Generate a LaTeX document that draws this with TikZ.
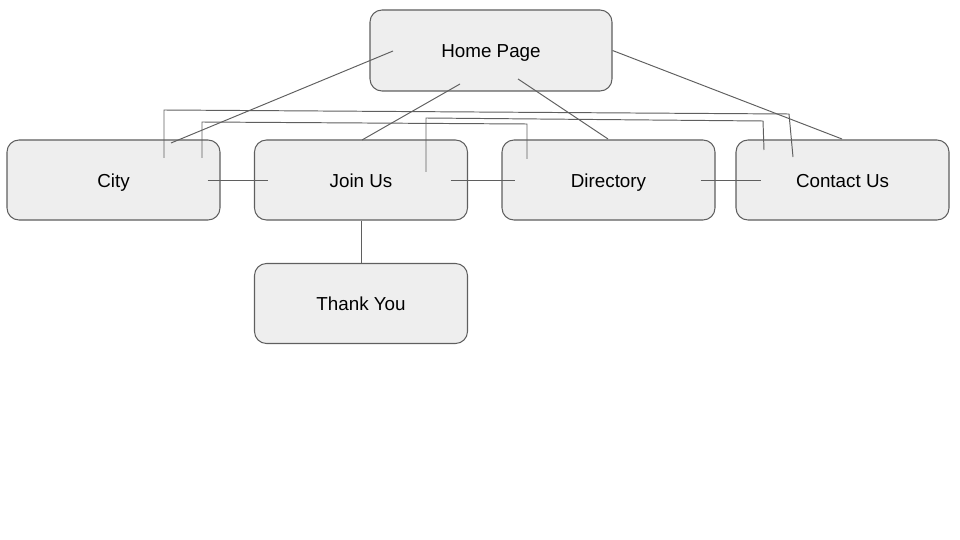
\documentclass[tikz,border=0pt]{standalone}
\usepackage{fontspec}
\setmainfont{Liberation Sans}
\usepackage{tikz}
\usetikzlibrary{positioning,calc}
\definecolor{BoxFill}{HTML}{EEEEEE}
\definecolor{Edge}{HTML}{5F5F5F}

\tikzset{
  page/.style={draw=Edge,fill=BoxFill,rounded corners=0.24cm,line width=0.6pt,
    minimum width=4.26cm,minimum height=1.6cm,text height=0.9em,text depth=0.08em,
    font=\fontsize{10.7}{12}\selectfont},
  link/.style={draw=Edge,line width=0.55pt}
}

\begin{document}
\begin{tikzpicture}
\useasboundingbox (0,0) rectangle (19.2,-10.8);
\node[page,minimum width=4.84cm,minimum height=1.62cm] (home) at (9.82,-1.01) {Home Page};
\node[page] (city) at (2.27,-3.6) {City};
\node[page] (join) at (7.22,-3.6) {Join Us};
\node[page] (dir) at (12.17,-3.6) {Directory};
\node[page] (contact) at (16.85,-3.6) {Contact Us};
\node[page] (thanks) at (7.22,-6.07) {Thank You};
% ends of the links inside the boxes
\coordinate (hc) at (7.86,-1.02);
\coordinate (ch) at (3.42,-2.86);
\coordinate (hj) at (9.2,-1.68);
\coordinate (jh) at (7.24,-2.8);
\coordinate (hd) at (10.36,-1.58);
\coordinate (dh) at (12.16,-2.78);
\coordinate (kh) at (16.84,-2.78);
\draw[link] (hc) -- (ch);
\draw[link] (hj) -- (jh);
\draw[link] (hd) -- (dh);
\draw[link] (home.east) -- (kh);
\draw[link] ([xshift=-0.26cm,yshift=-0.01cm]city.east) -- ([xshift=0.29cm,yshift=-0.01cm]join.west);
\draw[link] ([xshift=-0.35cm,yshift=-0.01cm]join.east) -- ([xshift=0.28cm,yshift=-0.01cm]dir.west);
\draw[link] ([xshift=-0.3cm,yshift=-0.01cm]dir.east) -- ([xshift=0.52cm,yshift=-0.01cm]contact.west);
\draw[link] ([xshift=0.01cm]join.south) -- ([xshift=0.01cm]thanks.north);
% elbows
\coordinate (c1) at (3.28,-3.16);
\coordinate (k1) at (15.86,-3.14);
\draw[link] (c1) -- (3.28,-2.2) -- (15.78,-2.28) -- (k1);
\coordinate (c2) at (4.04,-3.16);
\coordinate (d2) at (10.54,-3.18);
\draw[link] (c2) -- (4.04,-2.44) -- (10.54,-2.48) -- (d2);
\coordinate (j3) at (8.52,-3.44);
\coordinate (k3) at (15.28,-3.0);
\draw[link] (j3) -- (8.52,-2.36) -- (15.26,-2.42) -- (k3);
\end{tikzpicture}
\end{document}
